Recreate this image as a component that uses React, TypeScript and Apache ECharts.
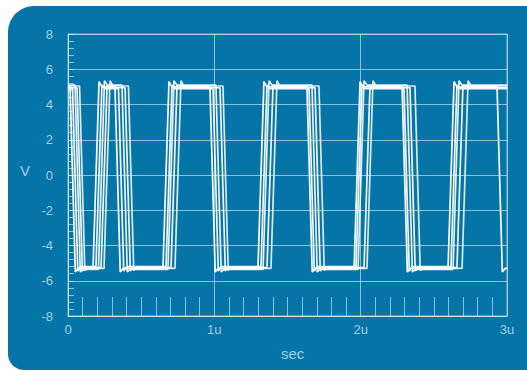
import React, { useEffect, useRef } from "react";
import * as echarts from "echarts";

// Time axis in microseconds, voltage axis in volts
const xTicks = [0, 1, 2, 3];
const xTickLabels = ["0", "1u", "2u", "3u"];
const yTicks = [-8, -6, -4, -2, 0, 2, 4, 6, 8];

// Edge start times (µs) of each captured trace; every trace starts high,
// so edges alternate fall, rise, fall, ...
const traceA = [0.014, 0.171, 0.321, 0.649, 0.970, 1.298, 1.633, 1.955, 2.283, 2.597, 2.932];
const traceB = [0.031, 0.191, 0.345, 0.670, 0.991, 1.319, 1.647, 1.968, 2.296, 2.617];
const traceC = [0.048, 0.208, 0.369, 0.683, 1.011, 1.333, 1.667, 1.982, 2.317, 2.631];
const traceD = [0.062, 0.226, 0.390, 0.704, 1.039, 1.360, 1.688, 2.023, 2.337, 2.658];
const traceE = [0.079, 0.246, 0.413, 0.731, 1.059, 1.387, 1.715, 2.043, 2.371, 2.693];

// Settled levels of each trace (V)
const highLevels = [5.0, 4.9, 5.1, 4.95, 5.05];
const lowLevels = [-5.3, -5.2, -5.35, -5.25, -5.3];
// Ringing right after an edge (V)
const overshoot = [0.3, 0.2, 0.25, 0.15, 0.3];
const undershoot = [-0.2, -0.25, -0.15, -0.2, -0.1];

const riseTime = 0.041;
const fallTime = 0.036;
const settleTime = 0.02;
const endTime = 3;

const traces = [traceA, traceB, traceC, traceD, traceE];
const traceOpacity = [1, 0.95, 0.9, 0.95, 0.85];

function buildTrace(edges: number[], i: number): [number, number][] {
  const hi = highLevels[i];
  const lo = lowLevels[i];
  const pts: [number, number][] = [[0, hi]];
  let high = true;
  for (const t of edges) {
    const dur = high ? fallTime : riseTime;
    const cur = high ? hi : lo;
    const next = high ? lo : hi;
    const ring = high ? undershoot[i] : overshoot[i];
    pts.push([t, cur]);
    if (t + dur <= endTime) {
      pts.push([t + dur, next + ring]);
      pts.push([Math.min(t + dur + settleTime, endTime), next]);
    } else {
      pts.push([t + dur, next]);
    }
    high = !high;
  }
  const last = pts[pts.length - 1];
  if (last[0] < endTime) pts.push([endTime, high ? hi : lo]);
  return pts;
}

const W = 527;
const H = 370;
const panelBlue = "#0574a6";
const lineBlue = "rgba(220,240,250,0.62)";
const textBlue = "#a3d0e4";
const font = "Liberation Sans, Arial, sans-serif";

export default function App() {
  const ref = useRef<HTMLDivElement>(null);

  useEffect(() => {
    if (!ref.current) return;
    const chart = echarts.init(ref.current, undefined, { renderer: "svg" });

    const series = traces.map((edges, i) => ({
      type: "line" as const,
      data: buildTrace(edges, i),
      showSymbol: false,
      symbol: "none",
      silent: true,
      z: 3,
      lineStyle: { color: "#ffffff", width: 1.7, opacity: traceOpacity[i] },
    }));

    chart.setOption({
      animation: false,
      backgroundColor: "transparent",
      graphic: [
        {
          type: "rect",
          z: -10,
          silent: true,
          shape: { x: 8, y: 6, width: 540, height: 364, r: [26, 18, 0, 16] },
          style: { fill: panelBlue },
        },
        {
          type: "text",
          left: 20,
          top: 163,
          style: { text: "V", fill: textBlue, font: `15px ${font}` },
        },
        {
          type: "text",
          left: 281,
          top: 346,
          style: { text: "sec", fill: textBlue, font: `15px ${font}` },
        },
      ],
      grid: {
        left: 68,
        right: W - 507,
        top: 34,
        bottom: H - 316,
        show: true,
        borderColor: lineBlue,
        borderWidth: 1,
        backgroundColor: "transparent",
      },
      xAxis: {
        type: "value",
        min: xTicks[0],
        max: xTicks[xTicks.length - 1],
        interval: 1,
        axisLine: { show: true, onZero: false, lineStyle: { color: lineBlue, width: 1 } },
        axisTick: { show: false },
        minorTick: { show: true, splitNumber: 10, length: -19, lineStyle: { color: lineBlue, width: 1 } },
        splitLine: { show: true, lineStyle: { color: lineBlue, width: 1 } },
        axisLabel: {
          color: textBlue,
          fontSize: 13,
          fontFamily: font,
          margin: 7,
          formatter: (v: number) => xTickLabels[xTicks.indexOf(v)] ?? "",
        },
      },
      yAxis: {
        type: "value",
        min: yTicks[0],
        max: yTicks[yTicks.length - 1],
        interval: 2,
        axisLine: { show: true, onZero: false, lineStyle: { color: lineBlue, width: 1 } },
        axisTick: { show: true, inside: true, length: 6, lineStyle: { color: lineBlue } },
        minorTick: { show: true, splitNumber: 5, length: 6, lineStyle: { color: lineBlue, width: 1 } },
        splitLine: { show: true, lineStyle: { color: lineBlue, width: 1 } },
        axisLabel: {
          color: textBlue,
          fontSize: 13,
          fontFamily: font,
          margin: 15,
        },
      },
      series,
    });

    return () => chart.dispose();
  }, []);

  return (
    <div
      ref={ref}
      style={{ position: "fixed", left: 0, top: 0, width: W, height: H, background: "#ffffff" }}
    />
  );
}
